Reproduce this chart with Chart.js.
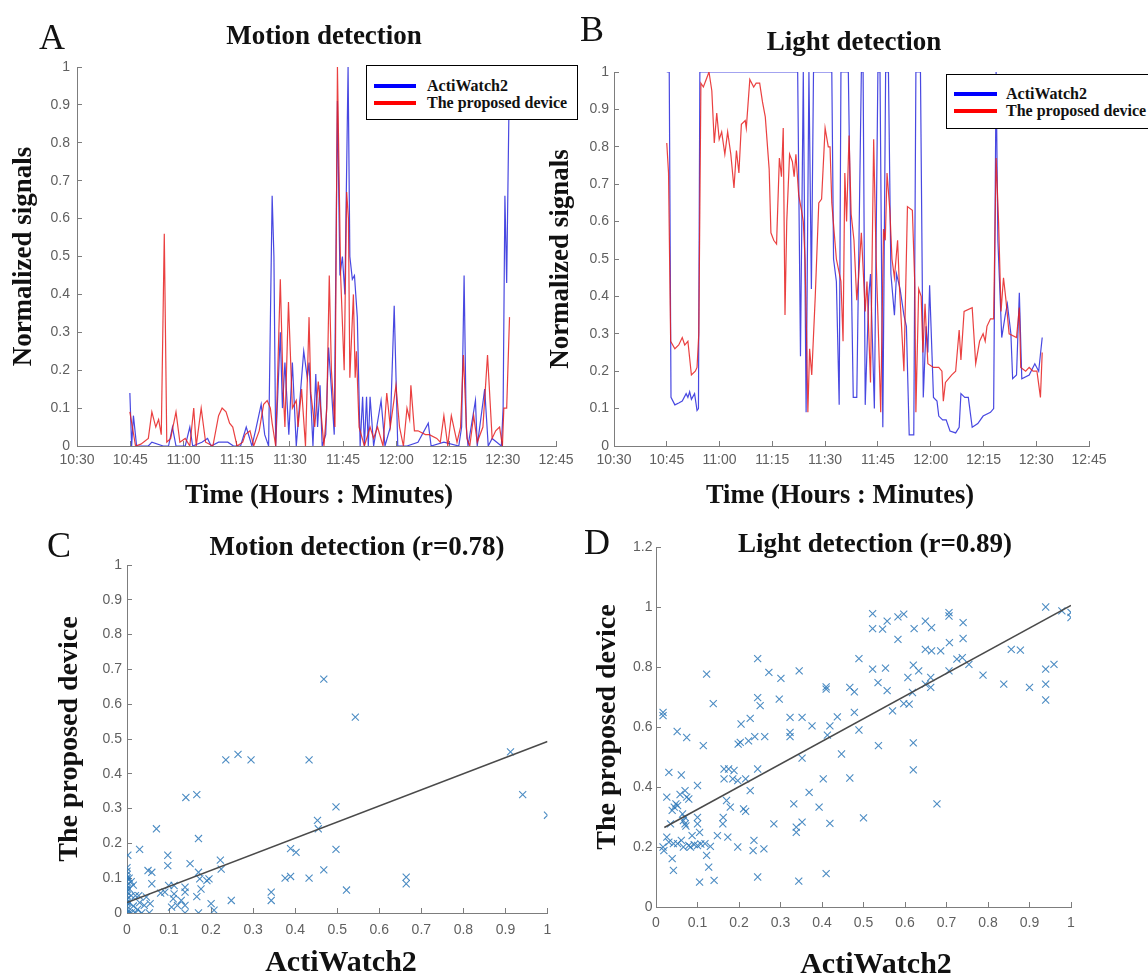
<!DOCTYPE html>
<html>
<head>
<meta charset="utf-8">
<script src="https://cdn.jsdelivr.net/npm/chart.js@4.4.0/dist/chart.umd.min.js"></script>
<style>
html,body{margin:0;padding:0;background:#fff;overflow:hidden;width:1148px;height:976px;}
canvas{position:absolute;}
.letter{position:absolute;font-family:"Liberation Serif","Times New Roman",serif;font-size:36px;line-height:1;color:#111;}
.legend{position:absolute;border:1px solid #000;background:#fff;font-family:"Liberation Serif","Times New Roman",serif;font-weight:bold;color:#111;box-sizing:border-box;font-size:16px;}
.legend .row{position:absolute;left:0;height:18px;display:flex;align-items:center;white-space:nowrap;}
.legend .sw{display:inline-block;height:4px;}
</style>
</head>
<body>
<canvas id="cA" width="648" height="515" style="left:0;top:0"></canvas>
<canvas id="cB" width="628" height="515" style="left:540px;top:0"></canvas>
<canvas id="cC" width="716" height="470" style="left:0;top:515px"></canvas>
<canvas id="cD" width="590" height="470" style="left:580px;top:515px"></canvas>

<div class="letter" style="left:39px;top:19px">A</div>
<div class="letter" style="left:580px;top:11px">B</div>
<div class="letter" style="left:47px;top:527px">C</div>
<div class="letter" style="left:584px;top:524px">D</div>

<div class="legend" style="left:366px;top:65px;width:212px;height:55px">
  <div class="row" style="top:11px"><span class="sw" style="background:#0000ff;width:42px;margin:0 11px 0 7px"></span><span>ActiWatch2</span></div>
  <div class="row" style="top:28px"><span class="sw" style="background:#ff0000;width:42px;margin:0 11px 0 7px"></span><span>The proposed device</span></div>
</div>
<div class="legend" style="left:946px;top:74px;width:210px;height:55px">
  <div class="row" style="top:10px"><span class="sw" style="background:#0000ff;width:43px;margin:0 9px 0 7px"></span><span>ActiWatch2</span></div>
  <div class="row" style="top:27px"><span class="sw" style="background:#ff0000;width:43px;margin:0 9px 0 7px"></span><span>The proposed device</span></div>
</div>

<script>
// ---------- tick labels ----------
const TIME_TICKS = ['10:30','10:45','11:00','11:15','11:30','11:45','12:00','12:15','12:30','12:45'];
// time values are minutes after 10:30

// ---------- Panel A : motion detection ----------
const motionTimeBlue = [14.9,15.4,15.9,16.8,20.1,21.1,24.3,25.8,26.9,27.9,30.5,31.8,32.6,35.2,36.8,37.8,39.9,42.5,44.1,46.1,47.7,49.3,50.3,51.9,52.9,54.0,55.0,55.5,56.0,57.3,57.9,58.6,59.7,60.7,61.8,62.8,63.9,64.9,65.4,66.5,67.3,67.8,68.5,69.1,70.1,70.9,71.7,72.5,73.4,74.1,74.8,75.5,76.4,76.9,77.6,78.2,79.0,79.8,80.5,81.0,81.6,82.1,82.6,83.6,85.7,86.8,88.3,89.4,90.4,93.0,96.1,99.0,99.8,103.4,107.6,108.4,109.1,109.7,110.2,112.3,112.8,114.9,115.9,117.0,119.6,120.1,120.6,121.1,121.7];
const motionBlue     = [0.14,0.0,0.08,0.0,0.0,0.01,0.0,0.0,0.05,0.0,0.0,0.05,0.0,0.01,0.02,0.0,0.01,0.01,0.0,0.0,0.05,0.0,0.04,0.11,0.03,0.0,0.66,0.50,0.0,0.30,0.10,0.22,0.03,0.22,0.0,0.12,0.25,0.18,0.22,0.0,0.19,0.05,0.16,0.0,0.03,0.26,0.15,0.03,0.91,0.45,0.50,0.40,1.0,0.50,0.44,0.45,0.34,0.0,0.13,0.0,0.13,0.0,0.13,0.0,0.12,0.0,0.05,0.37,0.0,0.0,0.01,0.06,0.0,0.01,0.0,0.05,0.45,0.05,0.0,0.12,0.0,0.15,0.0,0.02,0.0,0.10,0.66,0.43,0.86];
const motionTimeRed  = [14.9,16.5,18.0,20.1,21.1,22.2,23.0,23.75,24.6,25.3,26.4,27.9,29.0,30.5,31.8,32.9,33.6,35.0,36.25,38.3,39.9,40.9,42.0,43.0,43.9,45.1,46.7,47.4,48.75,49.8,51.35,52.6,53.6,54.5,55.0,56.0,57.3,58.1,58.6,59.6,60.7,61.8,62.3,63.3,64.4,65.4,65.9,67.0,68.0,69.6,70.4,71.1,71.7,72.7,73.4,74.3,75.3,76.0,76.5,76.9,77.9,78.4,78.75,79.5,81.0,82.6,83.6,84.7,86.25,87.3,88.3,89.9,90.9,92.0,93.0,93.75,94.1,95.1,96.1,98.2,99.3,101.4,102.4,103.4,104.5,105.5,107.1,108.1,108.9,109.9,110.7,111.8,112.8,114.4,115.7,117.0,118.0,119.1,119.9,120.3,121.1,121.9];
const motionRed      = [0.09,0.0,0.005,0.02,0.09,0.05,0.07,0.03,0.56,0.01,0.02,0.09,0.01,0.02,0.0,0.10,0.0,0.10,0.01,0.0,0.08,0.10,0.09,0.06,0.05,0.0,0.01,0.03,0.04,0.0,0.04,0.11,0.12,0.10,0.06,0.0,0.44,0.15,0.05,0.38,0.10,0.12,0.05,0.15,0.0,0.34,0.14,0.05,0.17,0.0,0.10,0.45,0.20,0.05,1.0,0.45,0.20,0.67,0.60,0.18,0.40,0.18,0.25,0.05,0.0,0.05,0.02,0.05,0.0,0.14,0.05,0.16,0.05,0.0,0.10,0.07,0.16,0.04,0.04,0.03,0.03,0.02,0.01,0.08,0.0,0.08,0.01,0.05,0.24,0.02,0.0,0.08,0.01,0.05,0.24,0.02,0.04,0.05,0.0,0.10,0.10,0.34];

// ---------- Panel B : light detection ----------
const lightTimeBlue = [15.0,15.7,16.2,17.3,18.4,19.4,20.5,21.0,21.5,22.0,22.9,23.6,24.0,24.4,52.2,53.0,53.8,54.6,55.4,56.1,56.7,61.9,62.4,63.2,64.0,64.5,66.6,67.2,68.0,69.0,70.3,70.8,71.4,72.4,72.9,74.0,75.0,75.6,76.4,77.2,78.0,78.7,79.7,80.3,81.3,82.4,83.1,83.9,85.2,85.8,87.1,87.9,88.7,89.2,89.7,90.8,91.8,92.3,93.4,94.4,95.5,97.1,98.1,98.6,99.7,100.7,101.8,103.4,104.9,107.0,107.9,108.6,109.1,110.2,111.2,111.8,112.8,113.3,114.4,115.2,115.9,118.0,119.6,120.7,121.7];
const lightBlue     = [1.0,1.0,0.13,0.11,0.115,0.12,0.14,0.13,0.145,0.125,0.14,0.095,0.10,1.0,1.0,0.24,1.0,0.09,1.0,0.42,1.0,1.0,0.50,0.44,0.11,1.0,1.0,0.60,0.13,0.13,1.0,1.0,0.11,0.40,0.46,0.10,1.0,1.0,0.05,1.0,1.0,0.46,0.35,0.46,0.42,0.35,0.32,0.03,0.03,1.0,1.0,0.13,0.32,0.25,0.43,0.13,0.12,0.08,0.07,0.07,0.04,0.035,0.05,0.14,0.13,0.13,0.05,0.06,0.08,0.09,0.10,1.0,0.55,0.29,0.35,0.38,0.30,0.18,0.19,0.41,0.18,0.19,0.22,0.20,0.29];
const lightTimeRed  = [15.0,15.5,16.1,17.3,18.4,19.4,20.1,21.0,22.0,23.1,23.6,24.1,24.7,25.4,26.2,27.0,27.8,28.5,29.2,29.9,30.6,31.5,32.3,33.2,34.1,34.8,35.5,36.2,37.3,37.6,38.6,39.7,40.4,41.4,42.2,43.0,44.1,44.6,45.4,46.2,47.0,47.6,48.1,48.6,49.1,49.9,50.7,51.2,51.7,52.5,53.3,53.8,54.3,54.8,55.1,55.6,56.2,57.2,58.2,59.0,60.0,60.9,61.4,61.9,62.5,63.2,64.5,65.1,65.6,66.1,66.8,67.4,68.2,69.0,69.5,70.3,71.4,71.9,72.9,73.8,74.5,75.0,75.8,76.6,77.1,77.6,78.4,79.0,79.7,80.6,81.1,82.4,83.4,84.8,85.5,85.8,86.6,87.3,87.8,88.4,89.2,90.8,92.3,93.2,93.6,94.2,96.0,97.1,98.1,98.6,99.5,101.8,102.8,103.9,104.9,105.5,106.0,107.0,107.9,108.6,109.3,110.0,110.7,111.4,112.3,114.4,115.2,115.6,117.0,118.0,119.1,120.2,121.2,121.7];
const lightRed      = [0.81,0.73,0.28,0.26,0.27,0.29,0.27,0.28,0.19,0.20,0.21,0.30,0.97,0.96,0.98,1.0,0.95,0.81,0.89,0.82,0.84,0.78,0.84,0.78,0.69,0.79,0.73,0.86,0.87,0.85,0.98,0.96,0.97,0.97,0.92,0.88,0.74,0.57,0.55,0.54,0.77,0.72,0.85,0.35,0.60,0.78,0.76,0.72,0.78,0.67,0.63,0.60,0.50,0.26,0.09,0.26,0.19,0.40,0.65,0.66,0.85,0.80,0.80,0.65,0.58,0.50,0.44,0.28,0.73,0.60,0.83,0.62,0.55,0.39,0.45,0.57,0.36,0.44,0.17,0.82,0.50,0.35,0.09,0.58,0.55,0.73,0.63,0.50,0.45,0.55,0.43,0.20,0.64,0.63,0.43,0.09,0.42,0.40,0.25,0.38,0.22,0.21,0.21,0.20,0.12,0.17,0.19,0.20,0.31,0.23,0.36,0.37,0.22,0.28,0.30,0.28,0.32,0.34,0.34,0.77,0.60,0.36,0.45,0.39,0.30,0.29,0.37,0.21,0.20,0.21,0.20,0.20,0.13,0.25];

// ---------- Panel C : motion scatter (r=0.78) ----------
const motionActi = [0.468,0.543,0.235,0.264,0.295,0.433,0.912,0.941,1.0,0.14,0.166,0.497,0.453,0.455,0.07,0.17,0.03,0.002,0.097,0.389,0.402,0.497,0.15,0.222,0.097,0.468,0.05,0.059,0.224,0.17,0.664,0.664,0.376,0.389,0.433,0.522,0.343,0.343,0.248,0.059,0.08,0.138,0.138,0.173,0.19,0.195,0.176,0.166,0.112,0.11,0.106,0.138,0.138,0.129,0.2,0.207,0.17,0.053,0.041,0.046,0.055,0.09,0.099,0.112,0.12,0.028,
  0,0,0,0,0,0,0,0,0,0,0,0,0,0,0.005,0.005,0.005,0.005,0.01,0.01,0.01,0.015,0.015,0.02,0.02,0.025,0.03,0.035];
const motionProp = [0.672,0.563,0.44,0.456,0.44,0.44,0.463,0.34,0.281,0.332,0.34,0.305,0.266,0.242,0.242,0.214,0.183,0.166,0.166,0.185,0.174,0.183,0.142,0.152,0.136,0.124,0.122,0.117,0.126,0.117,0.103,0.084,0.10,0.105,0.10,0.066,0.06,0.036,0.036,0.084,0.057,0.074,0.06,0.098,0.093,0.098,0.069,0.047,0.055,0.041,0.017,0.022,0.0,0.036,0.027,0.008,0.0,0.0,0.022,0.046,0.027,0.06,0.079,0.079,0.022,0.05,
  0.0,0.01,0.02,0.03,0.04,0.05,0.06,0.07,0.08,0.09,0.10,0.11,0.12,0.13,0.0,0.03,0.07,0.10,0.0,0.05,0.09,0.02,0.08,0.0,0.05,0.01,0.03,0.0];
const motionFitX = [0, 1];
const motionFitY = [0.030, 0.493];

// ---------- Panel D : light scatter (r=0.89) ----------
const lightActi = [0.939,0.978,1.0,1.0,0.522,0.522,0.546,0.557,0.583,0.597,0.649,0.622,0.664,0.706,0.706,0.74,0.74,0.583,0.707,0.649,0.664,0.686,0.706,0.725,0.738,0.754,0.856,0.878,0.788,0.838,0.9,0.939,0.939,0.939,0.959,0.522,0.553,0.489,0.62,0.633,0.607,0.662,0.649,0.662,0.535,0.557,0.618,0.597,0.61,0.57,0.536,0.62,0.62,0.677,0.467,0.478,0.41,0.41,0.478,0.489,0.437,0.419,0.413,0.447,0.467,0.403,0.376,0.352,0.352,0.369,0.345,0.301,0.297,0.272,0.245,0.245,0.251,0.323,0.323,0.323,0.262,0.238,0.223,0.203,0.198,0.227,0.205,0.138,0.122,0.114,0.074,0.051,0.017,0.017,0.245,0.175,0.188,0.164,0.164,0.185,0.197,0.216,0.227,0.17,0.179,0.211,0.216,0.162,0.161,0.148,0.173,0.197,0.236,0.234,0.26,0.284,0.332,0.338,0.338,0.352,0.393,0.419,0.5,0.41,0.344,0.245,0.14,0.105,0.122,0.127,0.1,0.1,0.1,0.105,0.087,0.061,0.066,0.079,0.092,0.1,0.108,0.118,0.131,0.066,0.07,0.07,0.074,0.07,0.079,0.061,0.031,0.026,0.044,0.048,0.052,0.039,0.035,0.026,0.031,0.017,0.019,0.042,0.039,0.042,0.052,0.083,0.072,0.064,0.058];
const lightProp = [1.0,0.987,0.965,0.982,0.978,0.928,0.926,0.953,0.967,0.976,0.953,0.928,0.931,0.981,0.970,0.948,0.895,0.892,0.881,0.859,0.854,0.854,0.787,0.826,0.831,0.809,0.859,0.856,0.773,0.743,0.732,0.793,0.743,0.69,0.809,0.793,0.796,0.828,0.806,0.787,0.765,0.765,0.743,0.732,0.748,0.721,0.715,0.678,0.676,0.654,0.538,0.547,0.457,0.344,0.732,0.717,0.734,0.726,0.649,0.59,0.634,0.604,0.573,0.51,0.43,0.427,0.604,0.632,0.496,0.382,0.787,0.762,0.693,0.782,0.828,0.698,0.671,0.632,0.582,0.568,0.568,0.568,0.554,0.549,0.543,0.629,0.61,0.678,0.776,0.538,0.565,0.585,0.649,0.638,0.46,0.46,0.455,0.46,0.427,0.427,0.421,0.427,0.388,0.355,0.333,0.327,0.319,0.299,0.277,0.238,0.233,0.2,0.222,0.188,0.194,0.277,0.344,0.266,0.249,0.283,0.333,0.279,0.297,0.111,0.086,0.10,0.089,0.083,0.172,0.133,0.405,0.299,0.277,0.249,0.238,0.222,0.2,0.205,0.208,0.205,0.21,0.211,0.202,0.288,0.277,0.299,0.366,0.388,0.36,0.44,0.449,0.366,0.333,0.344,0.338,0.322,0.277,0.233,0.216,0.2,0.188,0.211,0.161,0.122,0.211,0.2,0.27,0.31,0.375];
const lightFitX = [0.02, 1.0];
const lightFitY = [0.265, 1.005];

// ---------- helpers ----------
const SERIF = '"Liberation Serif","Times New Roman",serif';
const SANS  = '"Liberation Sans",Arial,Helvetica,sans-serif';
const AXC = '#7d7d7d';
const TICKC = '#606060';
const pts = (xs, ys) => xs.map((x, i) => ({x: x, y: ys[i]}));
const fmt = v => String(+(+v).toFixed(1));

// draws the panel title and the x-axis title at fixed places of the canvas
const panelText = {
  id: 'panelText',
  afterDraw(chart, args, opts) {
    const ctx = chart.ctx;
    ctx.save();
    ctx.fillStyle = '#111';
    ctx.textAlign = 'center';
    ctx.textBaseline = 'middle';
    (opts.items || []).forEach(it => {
      ctx.font = 'bold ' + it.size + 'px ' + SERIF;
      ctx.fillText(it.text, it.x, it.y);
    });
    ctx.restore();
  }
};

function scale(o) {
  const s = {
    type: 'linear',
    position: o.pos,
    min: o.min, max: o.max,
    border: {display: true, color: AXC, width: 1},
    grid: {display: true, drawOnChartArea: false, drawTicks: true, tickLength: -5, color: AXC, lineWidth: 1},
    ticks: {
      stepSize: o.step, autoSkip: false, maxRotation: 0, padding: o.tpad,
      color: TICKC, font: {family: SANS, size: 14},
      callback: o.cb || fmt
    },
    title: {display: false},
    afterFit: sc => { if (o.pos === 'left') sc.width = o.size; else sc.height = o.size; }
  };
  if (o.title) {
    s.title = {display: true, text: o.title, color: '#111',
      font: {family: SERIF, size: o.tsize, weight: 'bold', lineHeight: 1.2},
      padding: o.titlePad};
  }
  return s;
}

function baseOpts(o) {
  return {
    responsive: false, animation: false, events: [],
    layout: {padding: {left: 0, top: o.top, bottom: 0, right: o.right}},
    plugins: {
      legend: {display: false}, tooltip: {enabled: false}, title: {display: false},
      panelText: {items: o.texts}
    },
    scales: {x: scale(o.x), y: scale(o.y)}
  };
}

const timeCb = v => TIME_TICKS[Math.round(v / 15)];

function lineDs(label, xs, ys, color, order) {
  return {label: label, data: pts(xs, ys), borderColor: color, backgroundColor: color,
    borderWidth: 1.2, pointRadius: 0, tension: 0, fill: false, order: order};
}

// Panel A
new Chart(document.getElementById('cA'), {
  type: 'line',
  plugins: [panelText],
  data: {datasets: [
    lineDs('ActiWatch2', motionTimeBlue, motionBlue, 'rgba(40,40,220,0.85)', 1),
    lineDs('The proposed device', motionTimeRed, motionRed, 'rgba(230,30,30,0.85)', 0)
  ]},
  options: baseOpts({
    top: 67, right: 92,
    texts: [{text: 'Motion detection', x: 324, y: 37, size: 27},
            {text: 'Time (Hours : Minutes)', x: 319, y: 496, size: 26.5}],
    x: {pos: 'bottom', min: 0, max: 135, step: 15, tpad: 11, cb: timeCb, size: 69},
    y: {pos: 'left', min: 0, max: 1, step: 0.1, tpad: 12, title: 'Normalized signals', tsize: 27, titlePad: {top: 7.8, bottom: 0}, size: 77}
  })
});

// Panel B
new Chart(document.getElementById('cB'), {
  type: 'line',
  plugins: [panelText],
  data: {datasets: [
    lineDs('ActiWatch2', lightTimeBlue, lightBlue, 'rgba(40,40,220,0.85)', 1),
    lineDs('The proposed device', lightTimeRed, lightRed, 'rgba(230,30,30,0.85)', 0)
  ]},
  options: baseOpts({
    top: 72, right: 79,
    texts: [{text: 'Light detection', x: 314, y: 43, size: 27},
            {text: 'Time (Hours : Minutes)', x: 300, y: 496, size: 26.5}],
    x: {pos: 'bottom', min: 0, max: 135, step: 15, tpad: 11, cb: timeCb, size: 69},
    y: {pos: 'left', min: 0, max: 1, step: 0.1, tpad: 10, title: 'Normalized signals', tsize: 27, titlePad: {top: 4.8, bottom: 0}, size: 74}
  })
});

function scatterDs(xs, ys) {
  return {type: 'scatter', label: 'samples', data: pts(xs, ys), pointStyle: 'crossRot', pointRadius: 5,
    pointBorderWidth: 1.1, borderColor: 'rgba(45,120,185,0.85)', backgroundColor: 'rgba(45,120,185,0.85)', showLine: false, order: 1};
}
function fitDs(xs, ys) {
  return {type: 'line', label: 'fit', data: pts(xs, ys), borderColor: '#4a4a4a', borderWidth: 1.5, pointRadius: 0, tension: 0, order: 0};
}

// Panel C
new Chart(document.getElementById('cC'), {
  type: 'scatter',
  plugins: [panelText],
  data: {datasets: [scatterDs(motionActi, motionProp), fitDs(motionFitX, motionFitY)]},
  options: baseOpts({
    top: 50, right: 168.5,
    texts: [{text: 'Motion detection (r=0.78)', x: 357, y: 33, size: 27},
            {text: 'ActiWatch2', x: 341, y: 448, size: 30}],
    x: {pos: 'bottom', min: 0, max: 1, step: 0.1, tpad: 14, size: 72},
    y: {pos: 'left', min: 0, max: 1, step: 0.1, tpad: 10, title: 'The proposed device', tsize: 28, titlePad: {top: 53, bottom: 0}, size: 127}
  })
});

// Panel D
new Chart(document.getElementById('cD'), {
  type: 'scatter',
  plugins: [panelText],
  data: {datasets: [scatterDs(lightActi, lightProp), fitDs(lightFitX, lightFitY)]},
  options: baseOpts({
    top: 32, right: 99,
    texts: [{text: 'Light detection (r=0.89)', x: 295, y: 30, size: 27},
            {text: 'ActiWatch2', x: 296, y: 450, size: 30}],
    x: {pos: 'bottom', min: 0, max: 1, step: 0.1, tpad: 13, size: 78},
    y: {pos: 'left', min: 0, max: 1.2, step: 0.2, tpad: 8.5, title: 'The proposed device', tsize: 28, titlePad: {top: 11.2, bottom: 0}, size: 76}
  })
});
</script>
</body>
</html>
